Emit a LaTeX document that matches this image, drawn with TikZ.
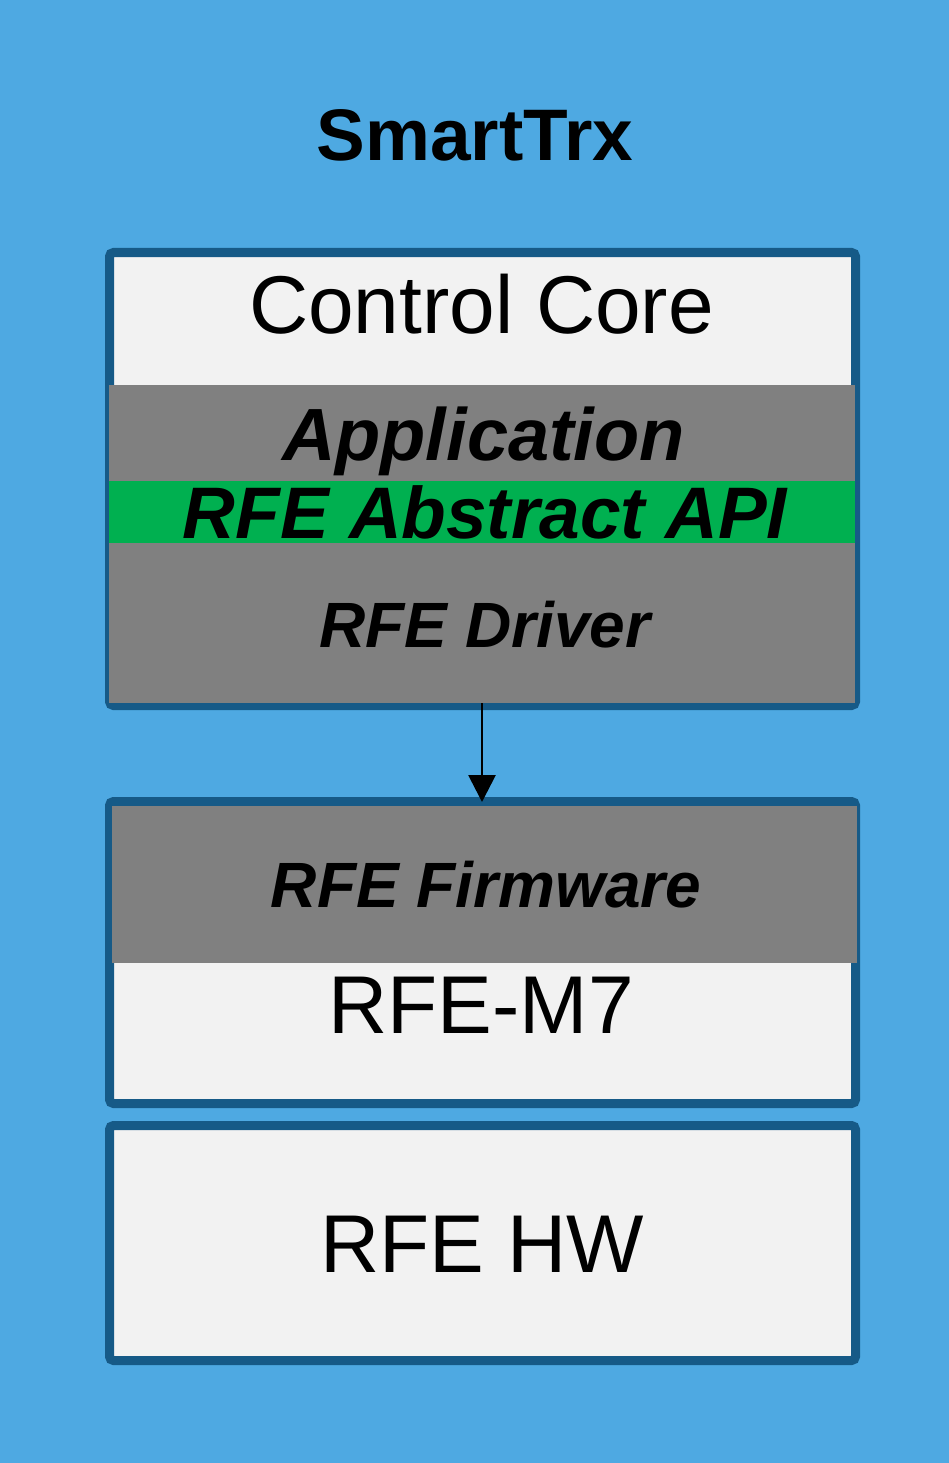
\documentclass[tikz,border=0pt]{standalone}
\usepackage{fontspec}
\setmainfont{Liberation Sans}
\usetikzlibrary{arrows.meta}
\definecolor{bgblue}{RGB}{78,169,226}
\definecolor{edgeblue}{RGB}{22,90,135}
\definecolor{boxgray}{RGB}{242,242,242}
\definecolor{layergray}{RGB}{128,128,128}
\definecolor{apigreen}{RGB}{0,176,80}
\begin{document}
\begin{tikzpicture}[x=1pt,y=1pt,yscale=-1,xscale=1,
  block/.style={draw=edgeblue,line width=9pt,fill=boxgray,rounded corners=4pt,inner sep=0pt,outer sep=0pt},
  layer/.style={fill=#1,inner sep=0pt,outer sep=0pt},
  boxtext/.style={inner sep=0pt,anchor=base,text=black,font=\fontsize{#1}{#1}\selectfont},
  layertext/.style={inner sep=0pt,anchor=base,text=black,font=\fontsize{#1}{#1}\selectfont\bfseries\itshape},
  titletext/.style={inner sep=0pt,anchor=base,text=black,font=\fontsize{#1}{#1}\selectfont\bfseries}]
%Background
\fill [bgblue] (0,0) rectangle (949,1463) ;
\useasboundingbox (0,0) rectangle (949,1463) ;

%Shape: Rectangle [Control Core]
\node [block,minimum width=746pt,minimum height=453pt] (core) at (482.5,479) {} ;
%Shape: Rectangle [RFE-M7]
\node [block,minimum width=746pt,minimum height=302pt] (m7) at (482.5,952.5) {} ;
%Shape: Rectangle [RFE HW]
\node [block,minimum width=746pt,minimum height=235pt] (hw) at (482.5,1243) {} ;

%Shape: Rectangle [software layers]
\node [layer=layergray,minimum width=746pt,minimum height=318pt] (driver) at (482,544) {} ;
\node [layer=apigreen,minimum width=746pt,minimum height=62pt] (api) at (482,512) {} ;
\node [layer=layergray,minimum width=745pt,minimum height=157pt] (firmware) at (484.5,884.5) {} ;

%Straight Lines
\draw [line width=2.8pt,-{Triangle[width=27pt,length=27pt]},shorten >=4pt] (driver.south) -- (driver.south |- firmware.north) ;

% Text Node
\node [titletext=73] (title) at (475,161) {SmartTrx} ;
% Text Node
\node [boxtext=82] (coretext) at (481.5,333) {Control Core} ;
% Text Node
\node [layertext=74] (apptext) at (483.5,460) {Application} ;
% Text Node
\node [layertext=73] (apitext) at (485,538) {RFE Abstract API} ;
% Text Node
\node [layertext=64] (drivertext) at (485,647) {RFE Driver} ;
% Text Node
\node [layertext=64] (fwtext) at (486,907) {RFE Firmware} ;
% Text Node
\node [boxtext=82] (m7text) at (481,1033) {RFE-M7} ;
% Text Node
\node [boxtext=82] (hwtext) at (482,1272) {RFE HW} ;

\end{tikzpicture}
\end{document}
